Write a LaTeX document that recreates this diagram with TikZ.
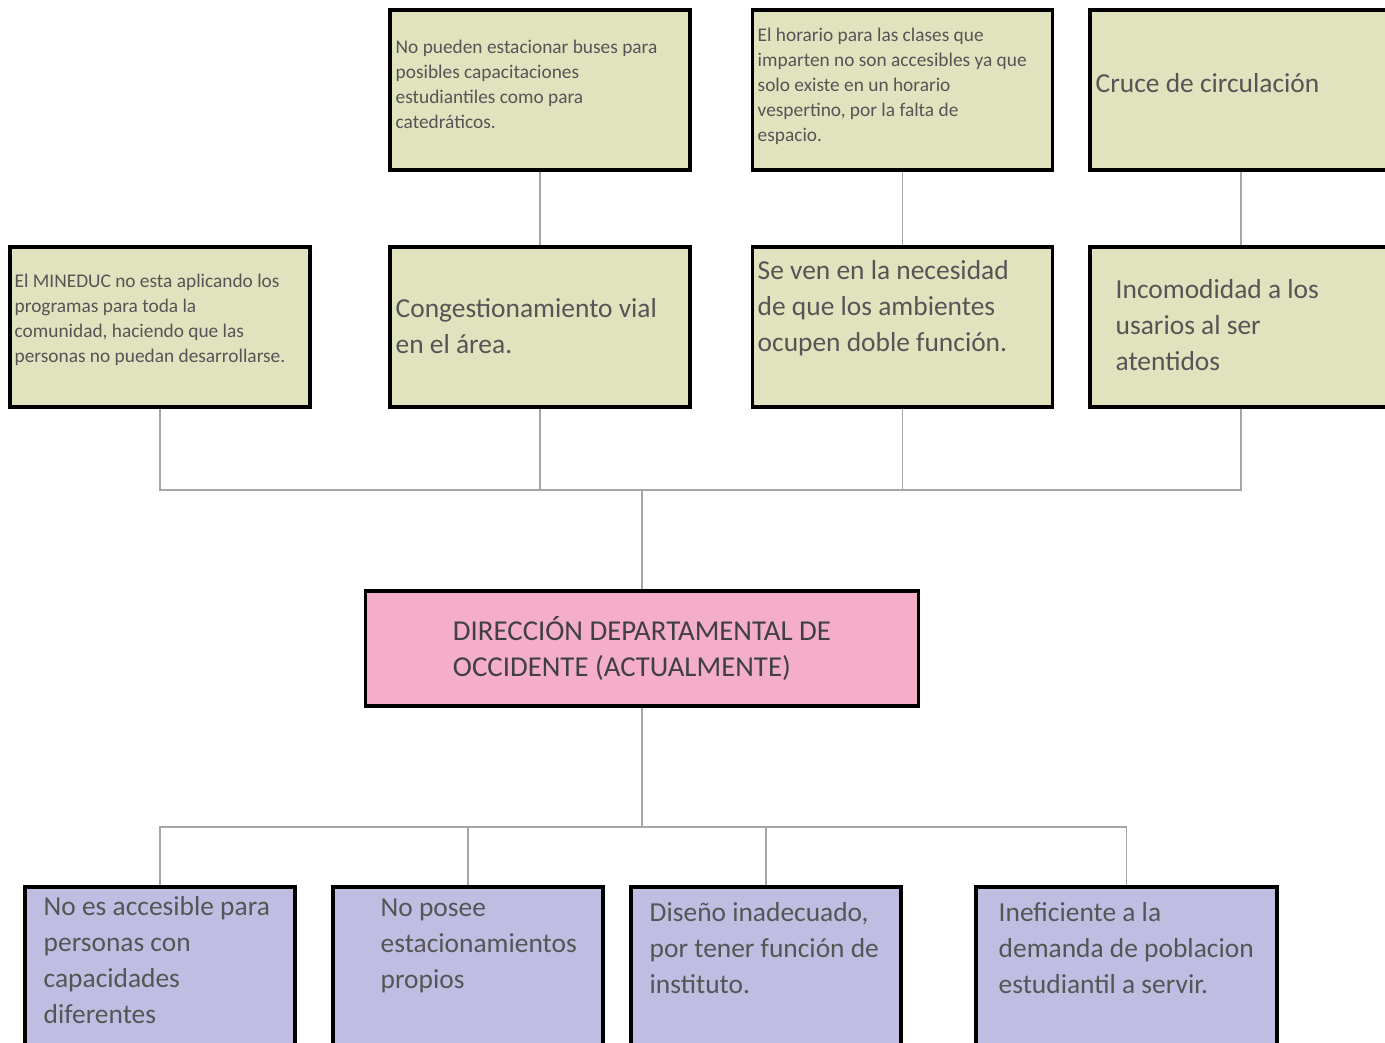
\documentclass[tikz,border=0pt]{standalone}
\usepackage{fontspec}
\setmainfont{Carlito}
\usetikzlibrary{positioning}

\definecolor{causefill}{HTML}{E1E2BE}
\definecolor{effectfill}{HTML}{C0BDE3}
\definecolor{corefill}{HTML}{F4AEC9}
\definecolor{inkgray}{HTML}{555555}
\definecolor{linkgray}{HTML}{A6A6A6}

\tikzset{
  boxline/.style={draw=black, line width=1pt, inner sep=0pt},
  cause/.style={boxline, fill=causefill, minimum width=3cm, minimum height=1.6cm},
  effect/.style={boxline, fill=effectfill, minimum width=2.7cm, minimum height=1.7cm},
  core/.style={boxline, fill=corefill, minimum width=5.53cm, minimum height=1.15cm,
    align=left, text=black!75, font=\fontsize{8.2}{10.2}\selectfont},
  smalltext/.style={anchor=west, align=left, inner sep=0pt, text=inkgray,
    font=\fontsize{5.5}{7.1}\selectfont},
  bigtext/.style={anchor=west, align=left, inner sep=0pt, text=inkgray,
    font=\fontsize{7.8}{10.2}\selectfont},
  link/.style={draw=linkgray, line width=0.5pt},
}

\begin{document}
\begin{tikzpicture}[x=0.01cm, y=-0.01cm]
\useasboundingbox (0,0) rectangle (1385,1043);
\clip (0,0) rectangle (1385,1043);

% Top row of causes
\node[cause] (t1) at (540,90) {};
\node[cause] (t2) at (902.5,90) {};
\node[cause, minimum width=3.02cm] (t3) at (1241,90) {};

% Second row of causes
\node[cause] (m1) at (160,327) {};
\node[cause] (m2) at (540,327) {};
\node[cause] (m3) at (902.5,327) {};
\node[cause, minimum width=3.02cm] (m4) at (1241,327) {};

% Central problem
\node[core] (core) at (642,648.5) {DIRECCIÓN DEPARTAMENTAL DE\\OCCIDENTE (ACTUALMENTE)};

% Effects
\node[effect] (b1) at (160,972) {};
\node[effect] (b2) at (468,972) {};
\node[effect] (b3) at (766,972) {};
\node[effect, minimum width=3.01cm] (b4) at (1126.5,972) {};

% Texts
\node[smalltext] (t1txt) at (395,84) {No pueden estacionar buses para\\posibles capacitaciones\\estudiantiles como para\\catedráticos.};
\node[smalltext] (t2txt) at (757,86) {El horario para las clases que\\imparten no son accesibles ya que\\solo existe en un horario\\vespertino, por la falta de\\espacio.};
\node[bigtext] (t3txt) at (1095,83) {Cruce de circulación};
\node[smalltext] (m1txt) at (14,320) {El MINEDUC no esta aplicando los\\programas para toda la\\comunidad, haciendo que las\\personas no puedan desarrollarse.};
\node[bigtext] (m2txt) at (395,326) {Congestionamiento vial\\en el área.};
\node[bigtext] (m3txt) at (757,308) {Se ven en la necesidad\\de que los ambientes\\ocupen doble función.};
\node[bigtext] (m4txt) at (1115,325) {Incomodidad a los\\usarios al ser\\atentidos};
\node[bigtext] (b1txt) at (43,960) {No es accesible para\\personas con\\capacidades\\diferentes};
\node[bigtext] (b2txt) at (380,946) {No posee\\estacionamientos\\propios};
\node[bigtext] (b3txt) at (649,948) {Diseño inadecuado,\\por tener función de\\instituto.};
\node[bigtext] (b4txt) at (998,948) {Ineficiente a la\\demanda de poblacion\\estudiantil a servir.};

% Connectors
\coordinate (hubup) at (642,490);
\coordinate (hubdn) at (642,827);
\foreach \a/\b in {t1/m2, t2/m3, t3/m4}
  \draw[link] (\a.south) -- (\b.north);
\foreach \m in {m1, m2, m3, m4}
  \draw[link] (\m.south) |- (hubup);
\draw[link] (hubup) -- (core.north);
\draw[link] (core.south) -- (hubdn);
\foreach \b in {b1, b2, b3, b4}
  \draw[link] (hubdn) -| (\b.north);

\end{tikzpicture}
\end{document}
